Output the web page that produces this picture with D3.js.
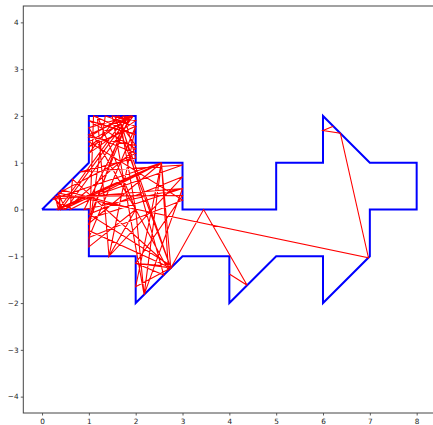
<!DOCTYPE html>
<html><head><meta charset="utf-8">
<script src="https://cdn.jsdelivr.net/npm/d3@7"></script>
<style>body{margin:0;background:#fff;overflow:hidden}svg{display:block}</style>
</head><body>
<script>
// Blue boundary polygon (closed)
const boundaryX = [0,1,1,2,2,3,3,5,5,6,6,7,8,8,7,7,6,6,5,4,4,3,2,2,1,1,0];
const boundaryY = [0,1,2,2,1,1,0,0,1,1,2,1,1,0,0,-1,-2,-1,-1,-2,-1,-1,-2,-1,-1,0,0];

// Red random path
const walkX = [4.00,4.38,3.45,2.75,2.55,2.70,2.00,1.18,1.43,2.00,1.00,1.87,1.00,2.00,1.35,1.00,2.75,1.55,2.00,1.00,
  1.75,2.00,0.80,3.00,0.30,2.55,0.45,0.25,0.50,0.35,0.40,1.87,1.00,3.00,0.22,2.55,0.60,0.65,2.75,1.62,
  1.00,2.00,1.50,2.18,2.55,2.00,2.75,2.00,2.78,1.00,3.00,1.43,2.00,1.00,3.00,1.00,1.95,0.50,2.00,1.00,
  2.00,1.10,1.00,2.00,1.65,2.60,2.00,3.00,0.28,0.35,1.80,1.00,2.55,0.35,0.42,2.00,2.18,3.00,0.90,1.90,
  1.00,2.00,0.35,6.97,6.37,6.00,6.22];
const walkY = [-1.38,-1.62,0.00,-1.25,1.00,-1.30,0.00,2.00,-1.00,0.00,1.75,2.00,1.34,1.78,2.00,-0.45,-1.25,2.00,1.37,1.55,
  2.00,1.10,0.80,0.95,0.00,1.00,0.00,0.25,0.00,0.35,0.00,2.00,-0.20,0.45,0.22,1.00,0.00,0.65,-1.25,2.00,
  1.20,1.90,2.00,-1.82,1.00,-1.65,-1.25,-1.15,-1.22,-0.10,0.70,-1.00,1.78,-0.60,0.20,1.45,2.00,0.00,1.30,1.90,
  1.60,2.00,-0.80,0.00,2.00,-1.40,-1.15,0.30,0.28,0.00,2.00,-0.30,1.00,0.00,0.42,0.00,-1.82,0.45,0.00,2.00,
  1.60,1.20,0.35,-1.03,1.63,1.69,1.78];

const xTicks = [0,1,2,3,4,5,6,7,8];
const yTicks = [-4,-3,-2,-1,0,1,2,3,4];
const xDomain = [-0.4, 8.4];
const yDomain = [-4.35, 4.35];

(function () {
const W = 433, H = 425;
const mLeft = 23.3, mRight = 435.4, mTop = 6, mBottom = 413;

const svg = d3.select("body").append("svg").attr("width", W).attr("height", H);
const x = d3.scaleLinear().domain(xDomain).range([mLeft, mRight]);
const y = d3.scaleLinear().domain(yDomain).range([mBottom, mTop]);

svg.append("defs").append("clipPath").attr("id","clip")
  .append("rect").attr("x",mLeft).attr("y",mTop).attr("width",mRight-mLeft).attr("height",mBottom-mTop);

const g = svg.append("g").attr("clip-path","url(#clip)");
const line = d3.line().x(d => x(d[0])).y(d => y(d[1]));

const boundary = boundaryX.map((v,i) => [v, boundaryY[i]]);
const walk = walkX.map((v,i) => [v, walkY[i]]);

g.append("path").datum(boundary).attr("d", line)
  .attr("fill","none").attr("stroke","#0000ff").attr("stroke-width",2).attr("stroke-linejoin","miter");
g.append("path").datum(walk).attr("d", line)
  .attr("fill","none").attr("stroke","#ff0000").attr("stroke-width",1.1);

const fmt = d => d < 0 ? "\u2212" + Math.abs(d) : String(d);

const xAxis = svg.append("g").attr("transform",`translate(0,${mBottom})`)
  .call(d3.axisBottom(x).tickValues(xTicks).tickFormat(fmt).tickSize(2.5).tickPadding(3.6));
const yAxis = svg.append("g").attr("transform",`translate(${mLeft},0)`)
  .call(d3.axisLeft(y).tickValues(yTicks).tickFormat(fmt).tickSize(2.5).tickPadding(2.2));

[xAxis, yAxis].forEach(a => {
  a.select(".domain").remove();
  a.selectAll(".tick line").attr("stroke","#333").attr("stroke-width",0.8);
  a.selectAll("text").attr("fill","#222").style("font-family","DejaVu Sans").style("font-size","7.3px");
});

svg.append("rect").attr("x",mLeft).attr("y",mTop).attr("width",mRight-mLeft).attr("height",mBottom-mTop)
  .attr("fill","none").attr("stroke","#444").attr("stroke-width",1);
})();
</script>
</body></html>
